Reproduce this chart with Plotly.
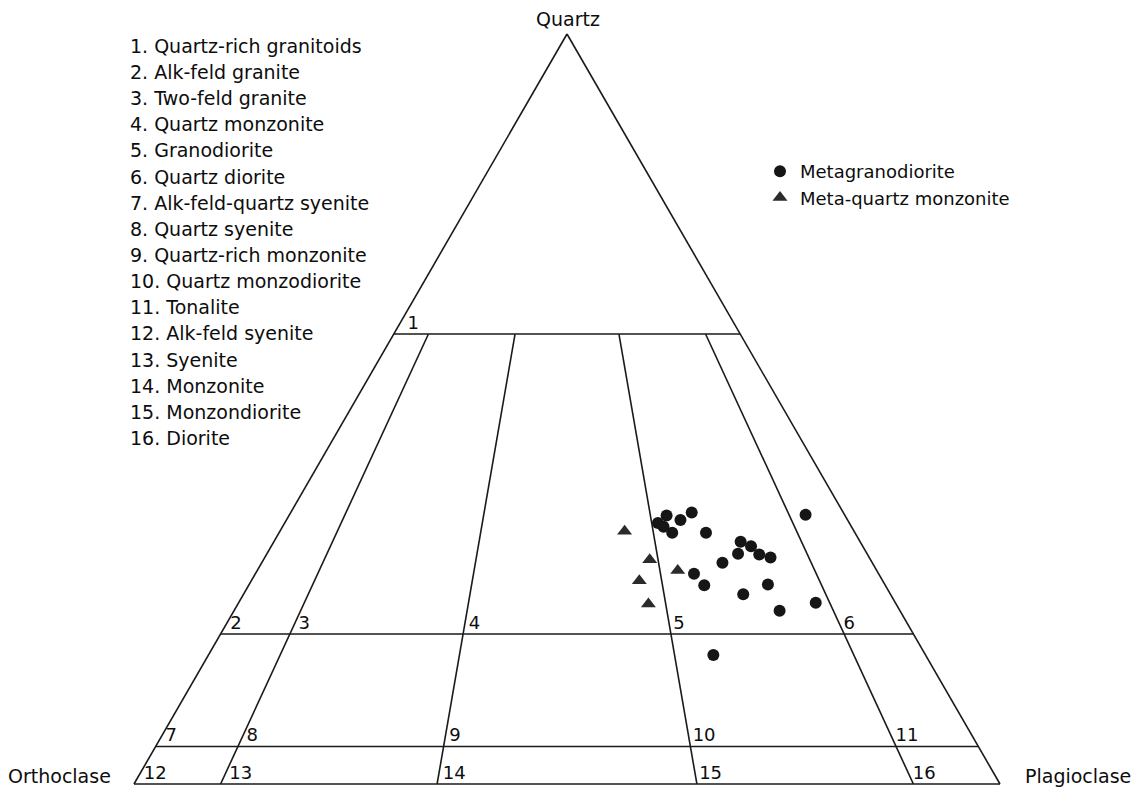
import math
import plotly.graph_objects as go

# ---------------- data ----------------
rock_names = [
    "Quartz-rich granitoids", "Alk-feld granite", "Two-feld granite",
    "Quartz monzonite", "Granodiorite", "Quartz diorite",
    "Alk-feld-quartz syenite", "Quartz syenite", "Quartz-rich monzonite",
    "Quartz monzodiorite", "Tonalite", "Alk-feld syenite", "Syenite",
    "Monzonite", "Monzondiorite", "Diorite",
]

vertex_names = ["Quartz", "Orthoclase", "Plagioclase"]

quartz_levels = [60, 20, 5]          # % Q of the horizontal field boundaries
plag_ratios = [10, 35, 65, 90]       # 100*P/(A+P) of the field boundaries

# Metagranodiorite (Q, A, P in %)
gd_Q = [35.8, 36.2, 35.2, 34.8, 34.3, 33.5, 33.5, 35.9, 32.3, 31.7, 30.7,
        30.6, 30.2, 29.5, 28.0, 26.5, 26.6, 25.3, 23.1, 24.2, 17.2]
gd_A = [20.6, 17.5, 19.3, 22.1, 21.7, 21.1, 17.2, 4.5, 13.8, 12.9, 14.9,
        12.5, 11.4, 17.3, 21.3, 20.9, 13.5, 17.0, 13.9, 9.2, 24.5]
gd_P = [43.6, 46.3, 45.5, 43.1, 44.0, 45.4, 49.3, 59.6, 53.9, 55.4, 54.4,
        56.9, 58.4, 53.2, 50.6, 52.6, 59.9, 57.7, 63.0, 66.7, 58.3]

# Meta-quartz monzonite (Q, A, P in %)
qm_Q = [33.7, 29.9, 28.5, 27.1, 24.0]
qm_A = [26.5, 25.5, 23.0, 28.1, 28.6]
qm_P = [39.8, 44.6, 48.6, 44.8, 47.4]

# ---------------- layout geometry ----------------
FIG_W, FIG_H = 1135, 790
TRI_W = 866.0
TRI_H = TRI_W * math.sqrt(3) / 2
TRI_LEFT = 134.0
TRI_BOTTOM = 784.0

LINE_COLOR = "#1a1a1a"
TEXT_COLOR = "#0d0d0d"
FONT = "DejaVu Sans"

fig = go.Figure()

# horizontal boundaries (constant Q)
for q in quartz_levels:
    fig.add_trace(go.Scatterternary(
        a=[q, q], b=[100 - q, 0], c=[0, 100 - q], mode="lines",
        line=dict(color=LINE_COLOR, width=1.6), showlegend=False,
        hoverinfo="skip", cliponaxis=False))

# ratio boundaries from Q = top level down to Q = 0
q_top = quartz_levels[0]
for r in plag_ratios:
    rf = r / 100.0
    fig.add_trace(go.Scatterternary(
        a=[q_top, 0], b=[(100 - q_top) * (1 - rf), 100 * (1 - rf)],
        c=[(100 - q_top) * rf, 100 * rf], mode="lines",
        line=dict(color=LINE_COLOR, width=1.6), showlegend=False,
        hoverinfo="skip", cliponaxis=False))


# field number labels, placed just right of each boundary crossing
def label_point(q, r, gap=4.0, mid=10.0):
    qf, rf = q / 100.0, r / 100.0
    p0 = (1 - qf) * rf
    x0 = TRI_W * p0 + TRI_W * qf / 2
    y0 = TRI_H * qf
    slope = (0.5 - rf) / (math.sqrt(3) / 2)
    x = x0 + slope * mid + gap
    y = y0 + 0.5
    Q = y / TRI_H
    P = (x - TRI_W * Q / 2) / TRI_W
    A = 1 - Q - P
    return 100 * Q, 100 * A, 100 * P


rows = [(quartz_levels[0], [0])] + [(q, [0] + plag_ratios) for q in quartz_levels[1:]] \
    + [(0, [0] + plag_ratios)]
la, lb, lc, lt = [], [], [], []
n = 1
for q, rs in rows:
    for r in rs:
        a_, b_, c_ = label_point(q, r, gap=8.0 if n == 1 else 4.0)
        la.append(a_); lb.append(b_); lc.append(c_); lt.append(str(n))
        n += 1

fig.add_trace(go.Scatterternary(
    a=la, b=lb, c=lc, text=lt, mode="text", textposition="top right",
    textfont=dict(family=FONT, size=18, color=TEXT_COLOR),
    showlegend=False, hoverinfo="skip", cliponaxis=False))

# data points
fig.add_trace(go.Scatterternary(
    a=gd_Q, b=gd_A, c=gd_P, mode="markers", name="Metagranodiorite",
    legendgroup="g1",
    marker=dict(symbol="circle", size=12, color="#161616"),
    cliponaxis=False))
fig.add_trace(go.Scatterternary(
    a=qm_Q, b=qm_A, c=qm_P, mode="markers", name="Meta-quartz monzonite",
    legendgroup="g2",
    marker=dict(symbol="triangle-up", size=13, color="#2b2b2b"),
    cliponaxis=False))

axis_style = dict(showgrid=False, showticklabels=False, ticks="",
                  linecolor=LINE_COLOR, linewidth=1.6, title=dict(text=""),
                  min=0)

fig.update_layout(
    width=FIG_W, height=FIG_H,
    margin=dict(l=0, r=0, t=0, b=0),
    paper_bgcolor="white", plot_bgcolor="white",
    font=dict(family=FONT, color=TEXT_COLOR),
    ternary=dict(
        sum=100, bgcolor="white",
        domain=dict(x=[TRI_LEFT / FIG_W, (TRI_LEFT + TRI_W) / FIG_W],
                    y=[(FIG_H - TRI_BOTTOM) / FIG_H,
                       (FIG_H - TRI_BOTTOM + TRI_H) / FIG_H]),
        aaxis=axis_style, baxis=axis_style, caxis=axis_style),
    legend=dict(x=760 / FIG_W, xanchor="left", y=1 - 153 / FIG_H,
                yanchor="top", font=dict(family=FONT, size=18, color=TEXT_COLOR),
                bgcolor="rgba(0,0,0,0)", tracegroupgap=0,
                traceorder="grouped"),
    showlegend=True,
)

# rock-name list (left)
annotations = []
for i, name in enumerate(rock_names):
    y_px = 45.8 + i * 26.15
    annotations.append(dict(
        text=f"{i + 1}. {name}", x=128 / FIG_W, y=1 - y_px / FIG_H,
        xref="paper", yref="paper", xanchor="left", yanchor="middle",
        showarrow=False, font=dict(family=FONT, size=19, color=TEXT_COLOR)))

# vertex names
annotations.append(dict(text=vertex_names[0], x=568 / FIG_W, y=1 - 19 / FIG_H,
                        xref="paper", yref="paper", xanchor="center",
                        yanchor="middle", showarrow=False,
                        font=dict(family=FONT, size=19, color=TEXT_COLOR)))
annotations.append(dict(text=vertex_names[1], x=113 / FIG_W, y=1 - 776 / FIG_H,
                        xref="paper", yref="paper", xanchor="right",
                        yanchor="middle", showarrow=False,
                        font=dict(family=FONT, size=19, color=TEXT_COLOR)))
annotations.append(dict(text=vertex_names[2], x=1023 / FIG_W, y=1 - 776 / FIG_H,
                        xref="paper", yref="paper", xanchor="left",
                        yanchor="middle", showarrow=False,
                        font=dict(family=FONT, size=19, color=TEXT_COLOR)))

fig.update_layout(annotations=annotations)

fig.write_html("out.html")
